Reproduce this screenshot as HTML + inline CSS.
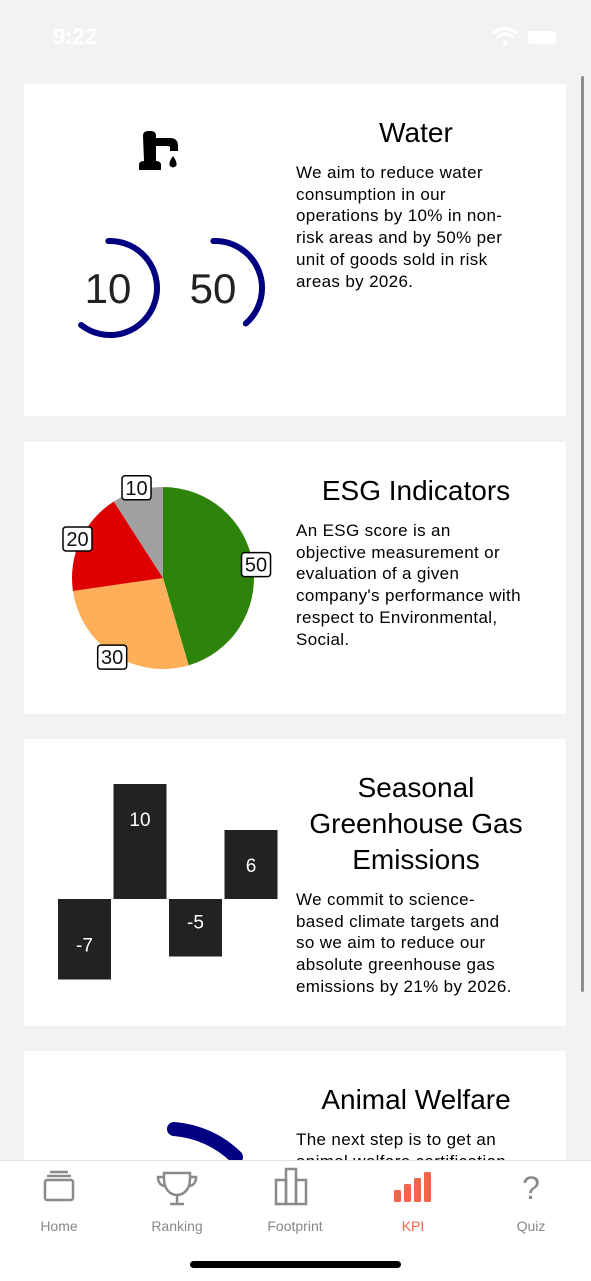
<!DOCTYPE html>
<html><head><meta charset="utf-8">
<style>
body{margin:0;width:591px;height:1280px;overflow:hidden;background:#f2f2f2;font-family:"Liberation Sans","DejaVu Sans",sans-serif;position:relative}
.card{position:absolute;left:24px;width:542px;background:#fff}
.title{position:absolute;left:262px;width:260px;text-align:center;font-size:28px;color:#000;line-height:36px}
.body{position:absolute;left:272px;width:226px;font-size:17px;line-height:21.7px;color:#000;letter-spacing:0.35px}
svg{position:absolute;left:0;top:0}
.num{font-family:"Liberation Sans",sans-serif}
</style></head><body>
<div style="position:absolute;left:53px;top:24px;color:#fff;font-size:22px;font-weight:bold">9:22</div>
<svg width="591" height="60" style="left:0;top:0">
<path d="M493 34 a16 16 0 0 1 24 0 M497 38 a10 10 0 0 1 16 0" stroke="#fff" stroke-width="3" fill="none"/><circle cx="505" cy="43" r="2.5" fill="#fff"/>
<rect x="528" y="31" width="28" height="13" rx="3" fill="#fff"/>
</svg>
<div style="position:absolute;left:581px;top:76px;width:3px;height:916px;background:#8e8e8e;border-radius:2px"></div>

<div class="card" style="top:84px;height:332px">
  <div class="title" style="top:31px">Water</div>
  <div class="body" style="top:78px">We aim to reduce water consumption in our operations by 10% in non-risk areas and by 50% per unit of goods sold in risk areas by 2026.</div>
  <svg width="290" height="332" id="water"></svg>
</div>

<div class="card" style="top:442px;height:272px">
  <div class="title" style="top:31px">ESG Indicators</div>
  <div class="body" style="top:78px">An ESG score is an objective measurement or evaluation of a given company's performance with respect to Environmental, Social.</div>
  <svg width="290" height="272" id="pie"></svg>
</div>

<div class="card" style="top:739px;height:287px">
  <div class="title" style="top:31px">Seasonal Greenhouse Gas Emissions</div>
  <div class="body" style="top:150px">We commit to science-based climate targets and so we aim to reduce our absolute greenhouse gas emissions by 21% by 2026.</div>
  <svg width="290" height="287" id="bars"></svg>
</div>

<div class="card" style="top:1051px;height:120px;overflow:hidden">
  <div class="title" style="top:31px">Animal Welfare</div>
  <div class="body" style="top:78px">The next step is to get an animal welfare certification</div>
  <svg width="290" height="120"><path d="M150 78 A100 100 0 0 1 212 106" stroke="#000080" stroke-width="14" fill="none" stroke-linecap="round"/></svg>
</div>

<div style="position:absolute;left:0;top:1160px;width:591px;height:120px;background:#fff;border-top:1px solid #e4e4e4">
<svg width="591" height="120" style="top:0">
  <g stroke="#8a8a8a" stroke-width="2.5" fill="none">
    <rect x="45" y="19" width="28" height="20" rx="2"/><line x1="47" y1="15" x2="71" y2="15"/><line x1="50" y1="11" x2="68" y2="11"/>
    <path d="M164 12 h26 v6 c0 10 -6 16 -13 16 c-7 0 -13 -6 -13 -16 z M164 16 h-6 c0 6 3 9 8 9 M190 16 h6 c0 6 -3 9 -8 9 M177 34 v9 M170 43 h14"/>
    <rect x="276" y="19" width="10" height="24"/><rect x="286" y="8" width="10" height="35"/><rect x="296" y="19" width="10" height="24"/>
  </g>
  <g fill="#f4644a"><rect x="394" y="29" width="7" height="12" rx="1.5"/><rect x="404" y="23" width="7" height="18" rx="1.5"/><rect x="414" y="17" width="7" height="24" rx="1.5"/><rect x="424" y="11" width="7" height="30" rx="1.5"/></g>
  <text x="531" y="38" text-anchor="middle" font-size="32" fill="#8a8a8a" font-family="Liberation Sans">?</text>
  <g font-size="14" text-anchor="middle" fill="#888">
    <text x="59" y="70">Home</text>
    <text x="177" y="70">Ranking</text>
    <text x="295" y="70">Footprint</text>
    <text x="413" y="70" fill="#f4644a">KPI</text>
    <text x="531" y="70">Quiz</text>
  </g>
  <rect x="190" y="100" width="211" height="7" rx="3.5" fill="#000"/>
</svg>
</div>

<script>
const NS='http://www.w3.org/2000/svg';
function mk(p,t,a){const e=document.createElementNS(NS,t);for(const k in a)e.setAttribute(k,a[k]);p.appendChild(e);return e;}

// Water gauges
const gaugeValues=[10,50];
const gaugeSweepDeg=[220,141];
const w=document.getElementById('water');
const tap=mk(w,'path',{d:'M119 52 q0 -5 5 -5 h3 q5 0 5 5 v2 h14 q8 0 8 8 v5 h-8 v-3 q0 -2 -2 -2 h-12 v15 q5 0 5 4 v5 h-22 v-5 q0 -4 5 -4 z',fill:'#000'});


const drop=mk(w,'path',{d:'M149 72 q-5 7 -3 10 q3 3 6 0 q2 -3 -3 -10 z',fill:'#000'});


gaugeValues.forEach((v,i)=>{
  const cx=86+i*105,cy=204,r=47;
  const a0=-2*Math.PI/180,a1=(gaugeSweepDeg[i]-2)*Math.PI/180;
  const x0=cx+r*Math.sin(a0),y0=cy-r*Math.cos(a0),x1=cx+r*Math.sin(a1),y1=cy-r*Math.cos(a1);
  const arc=mk(w,'path',{d:`M${x0} ${y0} A${r} ${r} 0 ${gaugeSweepDeg[i]>180?1:0} 1 ${x1} ${y1}`,stroke:'#000080','stroke-width':6,fill:'none','stroke-linecap':'round'});
  
  
  const t=mk(w,'text',{x:cx-2,y:cy+15,'text-anchor':'middle','font-size':42,fill:'#222',class:'num'});
  t.textContent=v;
  
  
});

// Pie
const pieLabels=['50','30','20','10'];
const pieValues=[50,30,20,10];
const pieColors=['#2e840b','#ffaf5a','#de0000','#a0a0a0'];
const p=document.getElementById('pie');
const pcx=139,pcy=136,pr=91;
const tot=pieValues.reduce((a,b)=>a+b,0);
let ang=0;
const labelPts=[];
pieValues.forEach((v,i)=>{
  const a0=ang,a1=ang+v/tot*2*Math.PI;ang=a1;
  const x0=pcx+pr*Math.sin(a0),y0=pcy-pr*Math.cos(a0),x1=pcx+pr*Math.sin(a1),y1=pcy-pr*Math.cos(a1);
  const s=mk(p,'path',{d:`M${pcx} ${pcy} L${x0} ${y0} A${pr} ${pr} 0 ${a1-a0>Math.PI?1:0} 1 ${x1} ${y1} Z`,fill:pieColors[i]});
  
  
  labelPts.push((a0+a1)/2);
});
pieValues.forEach((v,i)=>{
  const m=labelPts[i];
  const lx=pcx+(pr+3)*Math.sin(m),ly=pcy-(pr+3)*Math.cos(m);
  const wdt=pieLabels[i].length*11+7;
  const g=mk(p,'g',{});
  
  
  mk(g,'rect',{x:lx-wdt/2,y:ly-12,width:wdt,height:24,rx:3,fill:'#fff',stroke:'#000','stroke-width':1.5});
  const t=mk(g,'text',{x:lx,y:ly+7,'text-anchor':'middle','font-size':20,fill:'#111',class:'num'});
  t.textContent=pieLabels[i];
});

// Bars
const barLabels=['-7','10','-5','6'];
const barValues=[-7,10,-5,6];
const b=document.getElementById('bars');
const zeroY=160,unit=11.5,bx0=34,bstep=55.5,bw=53;
const y=v=>zeroY-v*unit;
barValues.forEach((v,i)=>{
  const top=Math.min(y(v),zeroY),h=Math.abs(y(v)-zeroY);
  const r=mk(b,'rect',{x:bx0+i*bstep,y:top,width:bw,height:h,fill:'#222'});
  
  
  const ty=v>=0?y(v)+42:y(v)-28;
  const t=mk(b,'text',{x:bx0+i*bstep+bw/2,y:ty,'text-anchor':'middle','font-size':19,fill:'#fff',class:'num'});
  t.textContent=barLabels[i];
  
  
});
</script>
</body></html>
